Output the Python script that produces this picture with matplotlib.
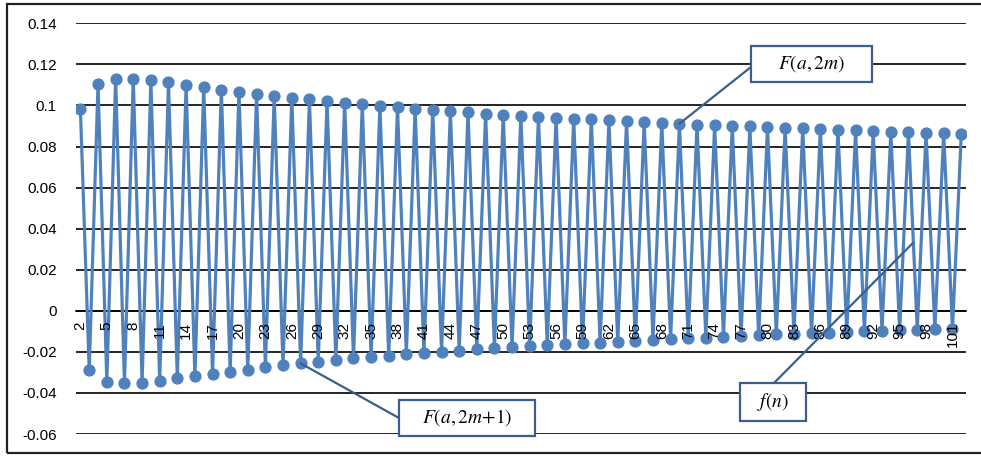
import numpy as np
import matplotlib
matplotlib.use('Agg')
import matplotlib.pyplot as plt
from matplotlib.patches import Rectangle

plt.rcParams['font.family'] = ['Liberation Sans', 'DejaVu Sans']
plt.rcParams['mathtext.fontset'] = 'stix'

# F(a,2m): values at even n = 2, 4, ..., 102
even_vals = [0.0982, 0.1104, 0.1129, 0.1130, 0.1124, 0.1112, 0.1099, 0.1088, 0.1077, 0.1067,
             0.1056, 0.1046, 0.1038, 0.1029, 0.1021, 0.1013, 0.1005, 0.0999, 0.0992, 0.0985,
             0.0978, 0.0971, 0.0966, 0.0960, 0.0955, 0.0950, 0.0945, 0.0940, 0.0935, 0.0932,
             0.0927, 0.0924, 0.0919, 0.0915, 0.0911, 0.0907, 0.0904, 0.0901, 0.0898, 0.0895,
             0.0891, 0.0888, 0.0885, 0.0882, 0.0878, 0.0875, 0.0872, 0.0870, 0.0867, 0.0865,
             0.0862]
# F(a,2m+1): values at odd n = 3, 5, ..., 101
odd_vals = [-0.0290, -0.0345, -0.0353, -0.0350, -0.0341, -0.0329, -0.0318, -0.0308, -0.0297, -0.0287,
            -0.0275, -0.0266, -0.0256, -0.0248, -0.0240, -0.0232, -0.0225, -0.0220, -0.0212, -0.0206,
            -0.0199, -0.0195, -0.0188, -0.0183, -0.0178, -0.0173, -0.0168, -0.0164, -0.0159, -0.0156,
            -0.0151, -0.0146, -0.0141, -0.0139, -0.0134, -0.0131, -0.0126, -0.0122, -0.0120, -0.0115,
            -0.0112, -0.0110, -0.0108, -0.0104, -0.0100, -0.0097, -0.0095, -0.0092, -0.0089, -0.0087]

n_first = 2
n_vals = np.arange(n_first, n_first + len(even_vals) + len(odd_vals))
f_vals = np.empty(len(n_vals))
f_vals[0::2] = even_vals
f_vals[1::2] = odd_vals

x_ticks = list(range(2, 102, 3))
y_ticks = [-0.06, -0.04, -0.02, 0, 0.02, 0.04, 0.06, 0.08, 0.1, 0.12, 0.14]
y_labels = ['-0.06', '-0.04', '-0.02', '0', '0.02', '0.04', '0.06', '0.08', '0.1', '0.12', '0.14']

W, H = 981, 458
fig = plt.figure(figsize=(W / 100, H / 100), dpi=100)

def fx(px):
    return px / W

def fy(py):
    return 1 - py / H

ax = fig.add_axes([fx(76), fy(434), fx(965.7) - fx(76), fy(23.3) - fy(434)])

blue = '#4F81BD'
dark = '#3A5F8E'

ax.plot(n_vals, f_vals, color=blue, lw=2.3, marker='o', ms=7.8, zorder=3)

# category axis crosses at zero; set this before the tick labels (it resets them)
for s in ['top', 'right', 'left']:
    ax.spines[s].set_visible(False)
ax.spines['bottom'].set_position(('data', 0))
ax.spines['bottom'].set_color('black')
ax.spines['bottom'].set_linewidth(1.2)

ax.set_xlim(n_first - 0.5, n_vals[-1] + 0.5)
ax.set_ylim(-0.06, 0.14)
ax.set_yticks(y_ticks)
ax.set_yticklabels(y_labels, fontsize=11)
ax.set_xticks(x_ticks)
ax.set_xticklabels([str(t) for t in x_ticks], fontsize=11)
ax.tick_params(axis='y', length=0, pad=14)
ax.tick_params(axis='x', length=0, pad=8, labelrotation=90)

ax.yaxis.grid(True, color='black', lw=1.2)
ax.set_axisbelow(True)
# category labels sit on top of the zigzag
ax.xaxis.set_zorder(4)

# outer frame
fig.add_artist(Rectangle((fx(7), fy(453)), 1.2, fy(4) - fy(453), transform=fig.transFigure,
                         fill=False, ec='#222222', lw=1.6))

def callout(text, xy, anchor, box, size=14):
    x0, y0, x1, y1 = box
    ax.annotate('', xy=xy, xycoords='data', xytext=(fx(anchor[0]), fy(anchor[1])),
                textcoords='figure fraction', annotation_clip=False,
                arrowprops=dict(arrowstyle='-', color=dark, lw=1.6, shrinkA=0, shrinkB=0),
                zorder=5)
    fig.add_artist(Rectangle((fx(x0), fy(y1)), fx(x1) - fx(x0), fy(y0) - fy(y1),
                             transform=fig.transFigure, fc='white', ec=dark, lw=1.6, zorder=6))
    fig.text(fx((x0 + x1) / 2), fy((y0 + y1) / 2), text, ha='center', va='center',
             fontsize=size, zorder=7)

callout(r'$F(a,2m)$', (70, f_vals[70 - n_first]), (751, 67), (751, 45.7, 872, 82.3))
callout(r'$F(a,2m{+}1)$', (27, f_vals[27 - n_first]), (399, 418), (399, 400, 535, 435.7))
callout(r'$f(n)$', (96.5, 0.033), (774, 383), (740, 383, 806, 420.7))

fig.savefig('out.png', dpi=100)
